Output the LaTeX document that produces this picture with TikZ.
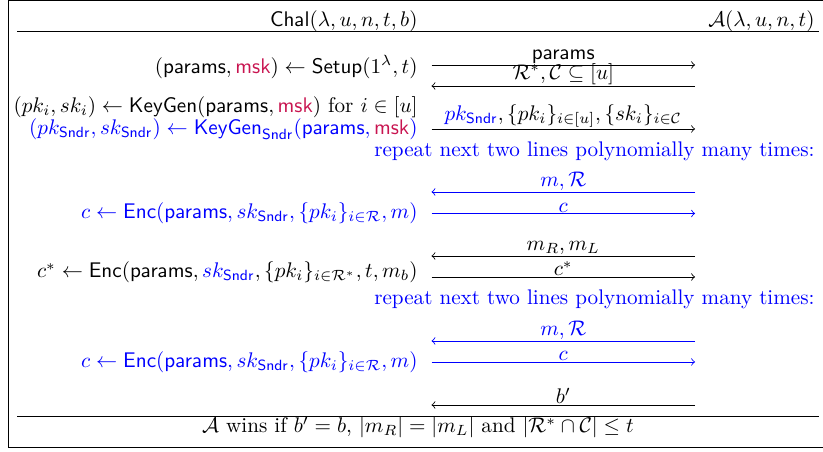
\documentclass[tikz,border=0pt]{standalone}
\usepackage{amsmath,amssymb,amsfonts}
\usepackage{xcolor}
\definecolor{mskred}{RGB}{200,20,80}

\begin{document}
\begin{tikzpicture}[
    party/.style={anchor=east, inner sep=0pt},
    lhs/.style={anchor=east, inner sep=0pt},
    lbl/.style={above, inner sep=0.4pt},
    msg/.style={->},
    ]
\useasboundingbox (0,0) rectangle (13.677,7.511);

% Frame
\draw[line width=0.6pt] (0.141,0.075) rectangle (13.79,7.503);

% Parties
\node[party] (chal) at (6.946,7.166) {$\mathsf{Chal}(\lambda, u, n, t, b)$};
\node[party] (adv) at (13.544,7.166) {$\mathcal{A}(\lambda, u, n, t)$};
\coordinate (hl) at (0.283,6.996);
\coordinate (hr) at (13.610,6.996);
\draw (hl) -- (hr);

% Message end points
\foreach \n/\y in {a/6.431,b/6.082,c/5.368,d/4.321,e/3.963,f/3.257,g/2.908,h/1.845,k/1.496,l/0.781} {
    \coordinate (L\n) at (7.171,\y);
    \coordinate (R\n) at (11.550,\y);
}

% Setup and keys
\node[lhs] (setup) at (6.946,6.398) {$(\mathsf{params}, \textcolor{mskred}{\mathsf{msk}}) \gets \mathsf{Setup}(1^\lambda, t)$};
\draw[msg] (La) -- node[lbl] (m1) {$\mathsf{params}$} (Ra);
\draw[msg] (Rb) -- node[lbl] (m2) {$\mathcal{R}^*, \mathcal{C} \subseteq [u]$} (Lb);

\node[lhs] (keygen) at (6.946,5.735) {$(pk_i, sk_i) \gets \mathsf{KeyGen}(\mathsf{params}, \textcolor{mskred}{\mathsf{msk}})$ for $i \in [u]$};
\node[lhs, blue] (keysndr) at (6.946,5.362) {$(pk_{\mathsf{Sndr}}, sk_{\mathsf{Sndr}}) \gets \mathsf{KeyGen}_{\mathsf{Sndr}}(\mathsf{params}, \textcolor{mskred}{\mathsf{msk}})$};
\draw[msg] (Lc) -- node[lbl] (m3) {$\textcolor{blue}{pk_{\mathsf{Sndr}}}, \{pk_i\}_{i \in [u]}, \{sk_i\}_{i \in \mathcal{C}}$} (Rc);

% First encryption queries
\node[party, blue] (rep1) at (13.544,5.002) {repeat next two lines polynomially many times:};
\node[lhs, blue] (enc1) at (6.946,3.963) {$c \gets \mathsf{Enc}(\mathsf{params}, sk_{\mathsf{Sndr}}, \{pk_i\}_{i \in \mathcal{R}}, m)$};
\draw[msg, blue] (Rd) -- node[lbl] (m4) {$m, \mathcal{R}$} (Ld);
\draw[msg, blue] (Le) -- node[lbl] (m5) {$c$} (Re);

% Challenge
\node[lhs] (chall) at (6.946,2.983) {$c^* \gets \mathsf{Enc}(\mathsf{params}, \textcolor{blue}{sk_{\mathsf{Sndr}}}, \{pk_i\}_{i \in \mathcal{R}^*}, t, m_b)$};
\draw[msg] (Rf) -- node[lbl] (m6) {$m_R, m_L$} (Lf);
\draw[msg] (Lg) -- node[lbl] (m7) {$c^*$} (Rg);

% Second encryption queries
\node[party, blue] (rep2) at (13.544,2.543) {repeat next two lines polynomially many times:};
\node[lhs, blue] (enc2) at (6.946,1.496) {$c \gets \mathsf{Enc}(\mathsf{params}, sk_{\mathsf{Sndr}}, \{pk_i\}_{i \in \mathcal{R}}, m)$};
\draw[msg, blue] (Rh) -- node[lbl] (m8) {$m, \mathcal{R}$} (Lh);
\draw[msg, blue] (Lk) -- node[lbl] (m9) {$c$} (Rk);

% Guess
\draw[msg] (Rl) -- node[lbl] (m10) {$b'$} (Ll);

% Winning condition
\coordinate (bl) at (0.283,0.587);
\coordinate (br) at (13.610,0.587);
\draw (bl) -- (br);
\node[inner sep=0pt] (win) at (6.946,0.407) {$\mathcal{A}$ wins if $b' = b$, $|m_R| = |m_L|$ and $|\mathcal{R}^* \cap \mathcal{C}| \leq t$};

\end{tikzpicture}
\end{document}
